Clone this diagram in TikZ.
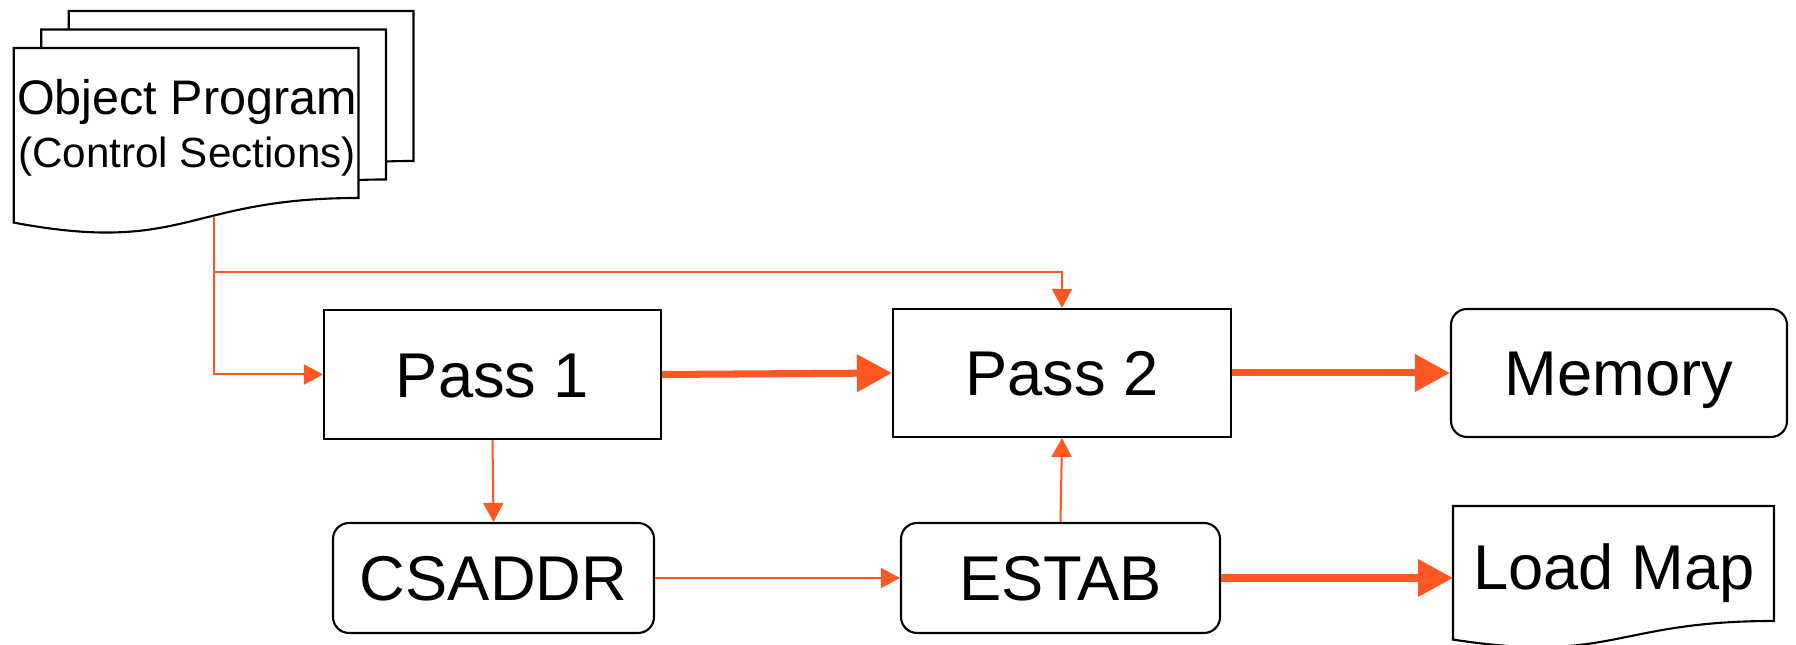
\documentclass[tikz,border=0pt]{standalone}
\usepackage{fontspec}
\setmainfont{Liberation Sans}
\usepackage{tikz}
\usetikzlibrary{arrows.meta}
\definecolor{flow}{RGB}{255,87,34}

\begin{document}
\begin{tikzpicture}[
  box/.style={draw=black, line width=0.6pt, minimum width=3.37cm, minimum height=1.29cm,
    font=\fontsize{18}{22}\selectfont, text height=12.9pt, text depth=0pt},
  store/.style={box, rounded corners=0.16cm},
  docpage/.style={draw=black, fill=white, line width=0.6pt},
  link/.style={draw=flow, line width=0.57pt, -{Triangle[length=0.19cm,width=0.2cm]}},
  mainflow/.style={draw=flow, line width=2pt, -{Triangle[length=0.35cm,width=0.36cm]}}]
\useasboundingbox (0,0) rectangle (17.96,6.45);
% object program, stacked pages
\draw[docpage, shift={(0.55,0.37)}] (0.137,5.97) -- (3.585,5.97) -- (3.585,4.47) .. controls (1.86,4.47) and (1.86,3.90) .. (0.137,4.224) -- cycle;
\draw[docpage, shift={(0.275,0.185)}] (0.137,5.97) -- (3.585,5.97) -- (3.585,4.47) .. controls (1.86,4.47) and (1.86,3.90) .. (0.137,4.224) -- cycle;
\draw[docpage] (0.137,5.97) -- (3.585,5.97) -- (3.585,4.47) .. controls (1.86,4.47) and (1.86,3.90) .. (0.137,4.224) -- cycle;
\node[anchor=base, font=\fontsize{13.8}{16}\selectfont] (objprog) at (1.87,5.30) {Object Program};
\node[anchor=base, font=\fontsize{12}{14}\selectfont] (ctrlsec) at (1.87,4.77) {(Control Sections)};
% load map page
\draw[docpage] (14.53,1.39) -- (17.74,1.39) -- (17.74,0.24) .. controls (16.135,0.24) and (16.135,-0.193) .. (14.53,0.054) -- cycle;
\node[anchor=base, font=\fontsize{18}{22}\selectfont] (loadmap) at (16.14,0.55) {Load Map};
% boxes
\node[box] (pass1) at (4.925,2.705) {Pass 1};
\node[box, minimum width=3.38cm, minimum height=1.28cm] (pass2) at (10.62,2.72) {Pass 2};
\node[store, minimum width=3.36cm, minimum height=1.28cm] (memory) at (16.19,2.72) {Memory};
\node[store, minimum width=3.21cm, minimum height=1.10cm] (csaddr) at (4.935,0.67) {CSADDR};
\node[store, minimum width=3.19cm, minimum height=1.10cm] (estab) at (10.605,0.67) {ESTAB};
\coordinate (objout) at (2.14,4.28);
\coordinate (branch) at (2.14,3.73);
\coordinate (loadin) at (14.53,0.67);
% arrows
\draw[link] (objout) |- (pass1.west);
\draw[link] (branch) -| (pass2.north);
\draw[mainflow] (pass1.east) -- (pass2.west);
\draw[mainflow] (pass2.east) -- (memory.west);
\draw[link] (pass1.south) -- (csaddr.north);
\draw[link] (csaddr.east) -- (estab.west);
\draw[link] (estab.north) -- (pass2.south);
\draw[mainflow] (estab.east) -- (loadin);
\end{tikzpicture}
\end{document}
